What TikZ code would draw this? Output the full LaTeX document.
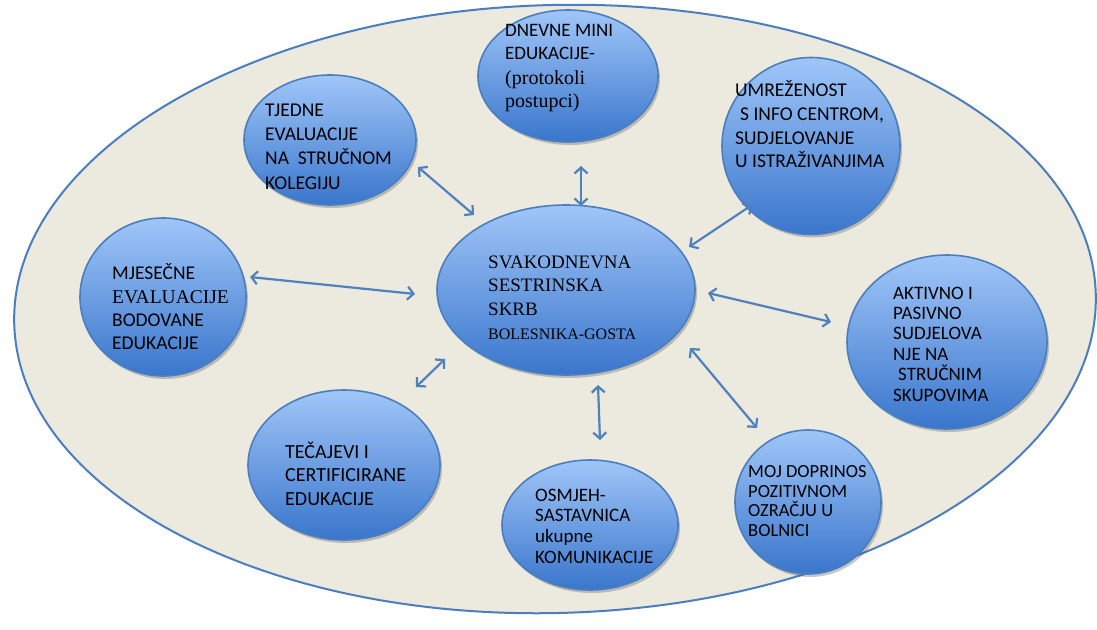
\documentclass[tikz,border=0pt]{standalone}
\usepackage{fontspec}
\setmainfont{Liberation Serif}
\newfontfamily\sansf{Carlito}
\usetikzlibrary{shapes.geometric,arrows.meta,shadows,calc}
\definecolor{paper}{RGB}{236,233,223}
\definecolor{rim}{RGB}{74,126,190}
\definecolor{bubtop}{RGB}{160,198,248}
\definecolor{bubbot}{RGB}{58,118,204}
\definecolor{linkblue}{RGB}{79,129,189}
\begin{document}
\begin{tikzpicture}[x=1pt,y=-1pt,
  bubble/.style={ellipse, draw=rim, line width=1.6pt, top color=bubtop,
    bottom color=bubbot, inner sep=0pt,
    drop shadow={shadow xshift=2pt, shadow yshift=-3pt, opacity=0.3, fill=black!70}},
  txt/.style={anchor=west, align=left, inner sep=0pt, text=black,
    font=\sansf\fontsize{19}{23.5}\selectfont},
  link/.style={draw=linkblue, line width=2.2pt,
    {Straight Barb[length=6pt,width=13pt]}-{Straight Barb[length=6pt,width=13pt]}}]
\useasboundingbox (0,0) rectangle (1097,629);
\fill[white] (0,0) rectangle (1097,629);

% outer field
\node[ellipse, draw=rim, line width=2pt, fill=paper, minimum width=1082pt,
  minimum height=608pt, rotate=1.6] (field) at (555,309) {};

% bubbles
\node[bubble, minimum width=180pt, minimum height=132pt] (dn) at (568,76) {};
\node[bubble, minimum width=178pt, minimum height=177pt] (um) at (811,146) {};
\node[bubble, minimum width=172pt, minimum height=130pt] (tj) at (330,140) {};
\node[bubble, minimum width=166pt, minimum height=158pt] (mj) at (163,297) {};
\node[bubble, minimum width=258pt, minimum height=170pt] (c)  at (566,290) {};
\node[bubble, minimum width=200pt, minimum height=174pt] (ak) at (947,342) {};
\node[bubble, minimum width=192pt, minimum height=150pt] (te) at (344,465) {};
\node[bubble, minimum width=176pt, minimum height=130pt] (os) at (590,525) {};
\node[bubble, minimum width=146pt, minimum height=144pt] (mo) at (808,502) {};

% labels
\node[txt] (dnt) at (505,68) {DNEVNE MINI\\EDUKACIJE-\\[1pt]{\rmfamily\fontsize{20}{24}\selectfont (protokoli}\\{\rmfamily\fontsize{20}{24}\selectfont postupci)}};
\node[txt, font=\sansf\fontsize{19.5}{23.7}\selectfont] (umt) at (735,124.5)
  {UMREŽENOST\\\hspace*{5pt}S INFO CENTROM,\\SUDJELOVANJE\\U ISTRAŽIVANJIMA};
\node[txt, font=\sansf\fontsize{19.5}{24.3}\selectfont] (tjt) at (265,146.5)
  {TJEDNE\\EVALUACIJE\\NA\ \ STRUČNOM\\KOLEGIJU};
\node[txt, font=\sansf\fontsize{19.5}{23.3}\selectfont] (mjt) at (112,307)
  {MJESEČNE\\{\rmfamily EVALUACIJE}\\BODOVANE\\EDUKACIJE};
\node[txt, font=\rmfamily\fontsize{19}{23.7}\selectfont] (ct) at (488,297.5)
  {SVAKODNEVNA\\SESTRINSKA\\SKRB\\{\fontsize{16}{23.7}\selectfont BOLESNIKA-GOSTA}};
\node[txt, font=\sansf\fontsize{19}{20.4}\selectfont] (akt) at (893,344)
  {AKTIVNO I\\PASIVNO\\SUDJELOVA\\NJE NA\\\hspace*{5pt}STRUČNIM\\SKUPOVIMA};
\node[txt, font=\sansf\fontsize{18.5}{19.5}\selectfont] (mot) at (748,501)
  {MOJ DOPRINOS\\POZITIVNOM\\OZRAČJU U\\BOLNICI};
\node[txt, font=\sansf\fontsize{19}{20.7}\selectfont] (ost) at (535,526)
  {OSMJEH-\\SASTAVNICA\\ukupne\\KOMUNIKACIJE};
\node[txt, font=\sansf\fontsize{20}{23.5}\selectfont] (tet) at (285,473.5)
  {TEČAJEVI I\\CERTIFICIRANE\\EDUKACIJE};

% two-way links to the central bubble
\draw[link] ($(tj)+(88,27)$) -- ($(c)+(-92,-75)$);
\draw[link] ($(dn)+(13,90)$) -- ($(c)+(15,-84)$);
\draw[link] ($(um)+(-59,59)$) -- ($(c)+(123,-43)$);
\draw[link] ($(mj)+(87,-20)$) -- ($(c)+(-151,4)$);
\draw[link] ($(ak)+(-116,-20)$) -- ($(c)+(142,3)$);
\draw[link] ($(c)+(-121,69)$) -- ($(te)+(72,-78)$);
\draw[link] ($(c)+(32,95)$) -- ($(os)+(10,-85)$);
\draw[link] ($(c)+(124,58)$) -- ($(mo)+(-51,-74)$);
\end{tikzpicture}
\end{document}
